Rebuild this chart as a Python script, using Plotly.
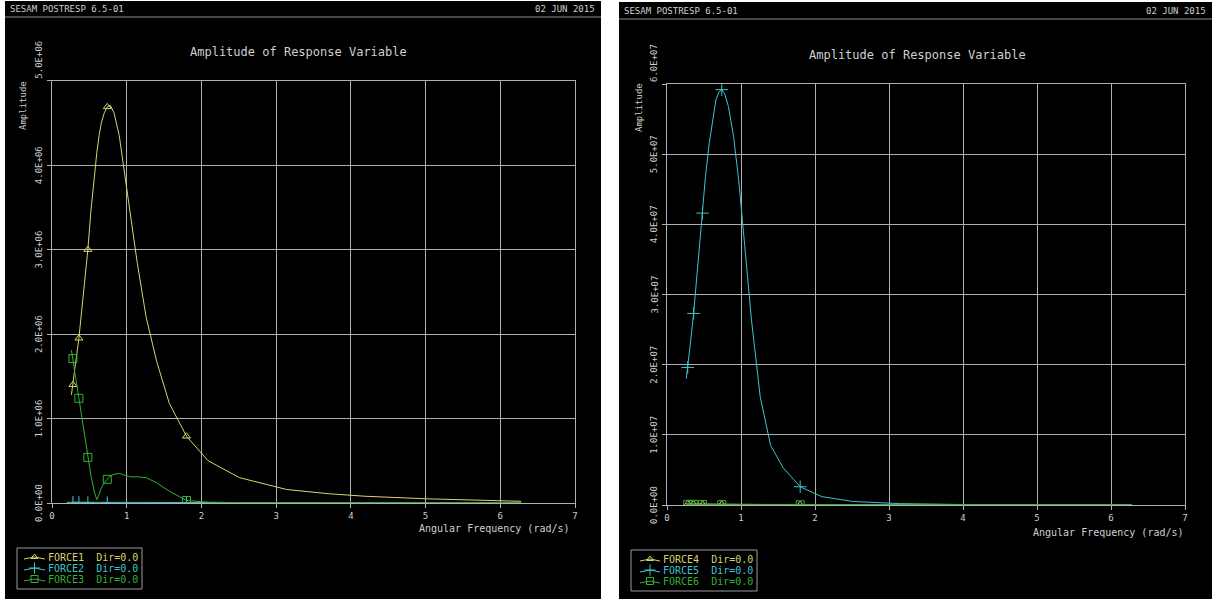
import plotly.graph_objects as go

W, H = 1212, 599

# ---------------- data ----------------
# angular frequencies (rad/s) shared by all response curves
omega = [0.26, 0.28, 0.31, 0.36, 0.42, 0.48, 0.52, 0.57, 0.60, 0.63, 0.66, 0.70,
         0.74, 0.78, 0.83, 0.90, 0.97, 1.05, 1.14, 1.26, 1.40, 1.57, 1.80, 2.09,
         2.51, 3.14, 3.70, 4.19, 5.00, 6.28]
# indices of the frequencies that carry a plot symbol
marker_idx = [1, 3, 5, 12, 22]

# left chart (units: N)
force1 = [1.28e6, 1.40e6, 1.62e6, 1.95e6, 2.45e6, 3.00e6, 3.45e6, 3.92e6, 4.15e6, 4.35e6,
          4.50e6, 4.62e6, 4.69e6, 4.71e6, 4.62e6, 4.35e6, 3.90e6, 3.40e6, 2.85e6, 2.20e6,
          1.68e6, 1.18e6, 0.79e6, 0.50e6, 0.30e6, 0.16e6, 0.11e6, 0.08e6, 0.05e6, 0.02e6]
force2 = [8e3, 8e3, 7e3, 7e3, 6e3, 6e3, 6e3, 5e3, 5e3, 5e3, 5e3, 5e3, 4e3, 4e3, 4e3,
          4e3, 3e3, 3e3, 3e3, 3e3, 2e3, 2e3, 2e3, 2e3, 1e3, 1e3, 1e3, 1e3, 1e3, 1e3]
force3 = [1.81e6, 1.71e6, 1.52e6, 1.24e6, 0.88e6, 0.54e6, 0.33e6, 0.12e6, 0.04e6, 0.10e6,
          0.18e6, 0.24e6, 0.28e6, 0.32e6, 0.34e6, 0.35e6, 0.33e6, 0.31e6, 0.31e6, 0.30e6,
          0.24e6, 0.14e6, 0.03e6, 0.01e6, 5e3, 3e3, 2e3, 1e3, 1e3, 1e3]

# right chart (units: Nm)
force4 = [1.5e5, 1.5e5, 1.4e5, 1.4e5, 1.3e5, 1.2e5, 1.2e5, 1.1e5, 1.1e5, 1.0e5, 1.0e5, 1.0e5,
          9e4, 9e4, 8e4, 8e4, 7e4, 7e4, 6e4, 6e4, 5e4, 5e4, 4e4, 3e4, 3e4, 2e4, 2e4, 1e4, 1e4, 1e4]
force5 = [1.80e7, 1.96e7, 2.25e7, 2.73e7, 3.45e7, 4.16e7, 4.68e7, 5.15e7, 5.38e7, 5.60e7,
          5.77e7, 5.88e7, 5.92e7, 5.86e7, 5.68e7, 5.25e7, 4.62e7, 3.70e7, 2.65e7, 1.54e7,
          0.85e7, 0.53e7, 0.26e7, 0.12e7, 0.05e7, 0.02e7, 0.01e7, 4e4, 2e4, 1e4]
force6 = [1.0e5, 1.0e5, 1.0e5, 9e4, 9e4, 8e4, 8e4, 8e4, 7e4, 7e4, 7e4, 6e4, 6e4, 6e4, 5e4,
          5e4, 5e4, 4e4, 4e4, 4e4, 3e4, 3e4, 3e4, 2e4, 2e4, 2e4, 1e4, 1e4, 1e4, 1e4]

x_ticks = [0, 1, 2, 3, 4, 5, 6, 7]
left_y_ticks = [0, 1e6, 2e6, 3e6, 4e6, 5e6]
left_y_labels = ["0.0E+00", "1.0E+06", "2.0E+06", "3.0E+06", "4.0E+06", "5.0E+06"]
right_y_ticks = [0, 1e7, 2e7, 3e7, 4e7, 5e7, 6e7]
right_y_labels = ["0.0E+00", "1.0E+07", "2.0E+07", "3.0E+07", "4.0E+07", "5.0E+07", "6.0E+07"]

left_names = ["FORCE1", "FORCE2", "FORCE3"]
right_names = ["FORCE4", "FORCE5", "FORCE6"]
direction_label = "Dir=0.0"

program_tag = "SESAM POSTRESP 6.5-01"
run_date = "02 JUN 2015"
chart_title = "Amplitude of Response Variable"
x_title = "Angular Frequency (rad/s)"
y_title = "Amplitude"

# ---------------- styling ----------------
YELLOW = "#d8d46c"
CYAN = "#3fc3cc"
GREEN = "#33b233"
GRID = "#b0b0b0"
TEXT = "#cfcfcf"
FONT = "DejaVu Sans Mono"

series_style = [
    (YELLOW, "triangle-up-open", 7),
    (CYAN, "cross-thin-open", 9),
    (GREEN, "square-open", 8),
]


def px_x(p):
    return p / W


def px_y(p):
    return 1 - p / H


fig = go.Figure()

panels = [
    dict(xa="x", ya="y", series=[force1, force2, force3], names=left_names,
         left=5, right=601, top=1, hdr=9, sep=17,
         plot=(52, 575, 80.7, 503), yt=left_y_ticks, yl=left_y_labels, ymax=5e6,
         ylab_x=39,
         title_xy=(298, 52), ytitle_xy=(23, 106), xtitle_xy=(572, 528),
         legend_box=(17, 548, 142, 589), legend_rows=[557, 568, 579], legend_sym=(24, 45)),
    dict(xa="x2", ya="y2", series=[force4, force5, force6], names=right_names,
         left=619, right=1212, top=2, hdr=11, sep=19,
         plot=(667, 1185, 84, 505), yt=right_y_ticks, yl=right_y_labels, ymax=6e7,
         ylab_x=654,
         title_xy=(917, 55), ytitle_xy=(639, 108), xtitle_xy=(1186, 532),
         legend_box=(631, 550, 757, 591), legend_rows=[559, 570, 581], legend_sym=(640, 660)),
]

shapes = []
annotations = []

for i, p in enumerate(panels):
    # black panel and its header separator
    shapes.append(dict(type="rect", xref="paper", yref="paper", layer="below",
                       x0=px_x(p["left"]), x1=px_x(p["right"]), y0=0, y1=px_y(p["top"]),
                       fillcolor="black", line=dict(width=0)))
    shapes.append(dict(type="line", xref="paper", yref="paper", layer="below",
                       x0=px_x(p["left"]), x1=px_x(p["right"]), y0=px_y(p["sep"]), y1=px_y(p["sep"]),
                       line=dict(color="#8a8a8a", width=1)))
    annotations.append(dict(text=program_tag, xref="paper", yref="paper", showarrow=False,
                            x=px_x(p["left"] + 3), y=px_y(p["hdr"]), xanchor="left", yanchor="middle",
                            font=dict(family=FONT, size=9, color=TEXT)))
    annotations.append(dict(text=run_date, xref="paper", yref="paper", showarrow=False,
                            x=px_x(p["right"] - 4), y=px_y(p["hdr"]), xanchor="right", yanchor="middle",
                            font=dict(family=FONT, size=9, color=TEXT)))
    annotations.append(dict(text=chart_title, xref="paper", yref="paper", showarrow=False,
                            x=px_x(p["title_xy"][0]), y=px_y(p["title_xy"][1]),
                            xanchor="center", yanchor="middle",
                            font=dict(family=FONT, size=12, color=TEXT)))
    annotations.append(dict(text=y_title, xref="paper", yref="paper", showarrow=False, textangle=-90,
                            x=px_x(p["ytitle_xy"][0]), y=px_y(p["ytitle_xy"][1]),
                            xanchor="center", yanchor="middle",
                            font=dict(family=FONT, size=9, color=TEXT)))
    annotations.append(dict(text=x_title, xref="paper", yref="paper", showarrow=False,
                            x=px_x(p["xtitle_xy"][0]), y=px_y(p["xtitle_xy"][1]),
                            xanchor="right", yanchor="middle",
                            font=dict(family=FONT, size=10, color=TEXT)))

    # vertical tick labels; the topmost one sits above its grid line
    for k, (tv, tl) in enumerate(zip(p["yt"], p["yl"])):
        top_label = k == len(p["yt"]) - 1
        annotations.append(dict(text=tl, xref="paper", yref=p["ya"], showarrow=False,
                                textangle=-90, x=px_x(p["ylab_x"]), y=tv,
                                xanchor="center", yanchor="bottom" if top_label else "middle",
                                font=dict(family=FONT, size=9, color=TEXT)))

    # legend frame
    bx0, by0, bx1, by1 = p["legend_box"]
    shapes.append(dict(type="rect", xref="paper", yref="paper",
                       x0=px_x(bx0), x1=px_x(bx1), y0=px_y(by1), y1=px_y(by0),
                       line=dict(color="#9a9a9a", width=1), fillcolor="rgba(0,0,0,0)"))

    # response curves
    for s, (vals, name) in enumerate(zip(p["series"], p["names"])):
        color, sym, size = series_style[s]
        fig.add_trace(go.Scatter(
            x=omega, y=vals, mode="lines", xaxis=p["xa"], yaxis=p["ya"],
            line=dict(color=color, width=1), showlegend=False, hoverinfo="skip"))
        fig.add_trace(go.Scatter(
            x=[omega[k] for k in marker_idx], y=[vals[k] for k in marker_idx],
            mode="markers", xaxis=p["xa"], yaxis=p["ya"], showlegend=False,
            marker=dict(symbol=sym, size=size, color=color, line=dict(color=color, width=1)),
            name=name))

        # legend key and label
        sx0, sx1 = p["legend_sym"]
        ry = p["legend_rows"][s]
        fig.add_trace(go.Scatter(
            x=[sx0, (sx0 + sx1) / 2, sx1], y=[ry + 2, ry, ry + 2], mode="lines",
            xaxis="x3", yaxis="y3", showlegend=False, hoverinfo="skip",
            line=dict(color=color, width=1)))
        fig.add_trace(go.Scatter(
            x=[(sx0 + sx1) / 2], y=[ry], mode="markers",
            xaxis="x3", yaxis="y3", showlegend=False, hoverinfo="skip",
            marker=dict(symbol=sym, size=size - 1, color=color, line=dict(color=color, width=1))))
        annotations.append(dict(text=f"{name}  {direction_label}", xref="paper", yref="paper",
                                showarrow=False, x=px_x(sx1 + 1), y=px_y(ry),
                                xanchor="left", yanchor="middle",
                                font=dict(family=FONT, size=10, color=color)))

axis_common = dict(showgrid=True, gridcolor=GRID, gridwidth=1, zeroline=False,
                   showline=True, linecolor=GRID, linewidth=1, mirror=True,
                   ticks="outside", ticklen=4, tickcolor=GRID, tickwidth=1, automargin=False,
                   tickfont=dict(family=FONT, size=9, color=TEXT))

lp, rp = panels[0]["plot"], panels[1]["plot"]
fig.update_layout(
    template="none",
    width=W, height=H, margin=dict(l=0, r=0, t=0, b=0, pad=0, autoexpand=False),
    paper_bgcolor="white", plot_bgcolor="rgba(0,0,0,0)",
    showlegend=False, shapes=shapes, annotations=annotations,
    xaxis=dict(domain=[px_x(lp[0]), px_x(lp[1])], range=[0, 7], tickvals=x_ticks,
               anchor="y", **axis_common),
    yaxis=dict(domain=[px_y(lp[3]), px_y(lp[2])], range=[0, panels[0]["ymax"]],
               tickvals=left_y_ticks, showticklabels=False, anchor="x", **axis_common),
    xaxis2=dict(domain=[px_x(rp[0]), px_x(rp[1])], range=[0, 7], tickvals=x_ticks,
                anchor="y2", **axis_common),
    yaxis2=dict(domain=[px_y(rp[3]), px_y(rp[2])], range=[0, panels[1]["ymax"]],
                tickvals=right_y_ticks, showticklabels=False, anchor="x2", **axis_common),
    # pixel-space overlay used for the legend keys
    xaxis3=dict(domain=[0, 1], range=[0, W], visible=False, anchor="y3", automargin=False),
    yaxis3=dict(domain=[0, 1], range=[H, 0], visible=False, anchor="x3", automargin=False),
)

fig.write_html("out.html")
